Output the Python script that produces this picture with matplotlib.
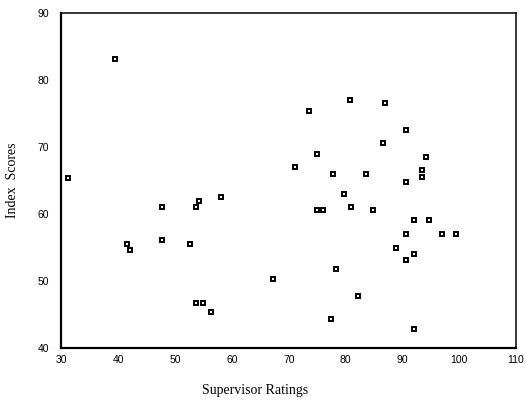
import matplotlib
matplotlib.use("Agg")
import matplotlib.pyplot as plt

# Supervisor ratings vs. index scores
supervisor = [31.2, 39.5, 47.7, 54.2, 53.7, 58.1, 41.5, 42.1, 47.7, 52.6,
              53.7, 54.9, 56.3, 73.5, 80.8, 87.0, 90.6, 86.5, 74.9, 71.1,
              94.1, 77.7, 83.6, 93.5, 93.5, 90.6, 79.8, 74.9, 76.0, 80.9,
              84.8, 92.0, 94.7, 90.7, 96.9, 99.5, 88.9, 92.1, 90.7, 78.4,
              67.2, 82.1, 77.4, 92.1]
index_scores = [65.4, 83.1, 61.0, 62.0, 61.0, 62.5, 55.5, 54.6, 56.1, 55.5,
                46.8, 46.8, 45.4, 75.4, 77.0, 76.5, 72.5, 70.5, 69.0, 67.0,
                68.5, 66.0, 66.0, 66.5, 65.5, 64.7, 63.0, 60.6, 60.6, 61.0,
                60.6, 59.1, 59.1, 57.0, 57.0, 57.0, 55.0, 54.0, 53.1, 51.8,
                50.3, 47.8, 44.3, 42.9]
x_ticks = [30, 40, 50, 60, 70, 80, 90, 100, 110]
y_ticks = [40, 50, 60, 70, 80, 90]

fig = plt.figure(figsize=(5.25, 4.04), dpi=100)
ax = fig.add_axes([0.117, 0.138, 0.866, 0.831])

ax.plot(supervisor, index_scores, linestyle="none", marker="s",
        markersize=3.2, markerfacecolor="white", markeredgecolor="black",
        markeredgewidth=1.4)

ax.set_xlim(30, 110)
ax.set_ylim(40, 90)
ax.set_xticks(x_ticks)
ax.set_yticks(y_ticks)
ax.tick_params(length=0, labelsize=7.5)
ax.tick_params(axis="y", pad=9)
ax.tick_params(axis="x", pad=5)
for lbl in ax.get_xticklabels() + ax.get_yticklabels():
    lbl.set_family("Liberation Sans")

for side in ["left", "bottom"]:
    ax.spines[side].set_linewidth(1.6)
for side in ["top", "right"]:
    ax.spines[side].set_linewidth(1.1)

fig.text(0.486, 0.017, "Supervisor Ratings", family="Liberation Serif",
         fontsize=10, ha="center", va="bottom")
fig.text(0.023, 0.555, "Index  Scores", family="Liberation Serif",
         fontsize=10, ha="center", va="center", rotation=90)

fig.savefig("out.png", dpi=100)
